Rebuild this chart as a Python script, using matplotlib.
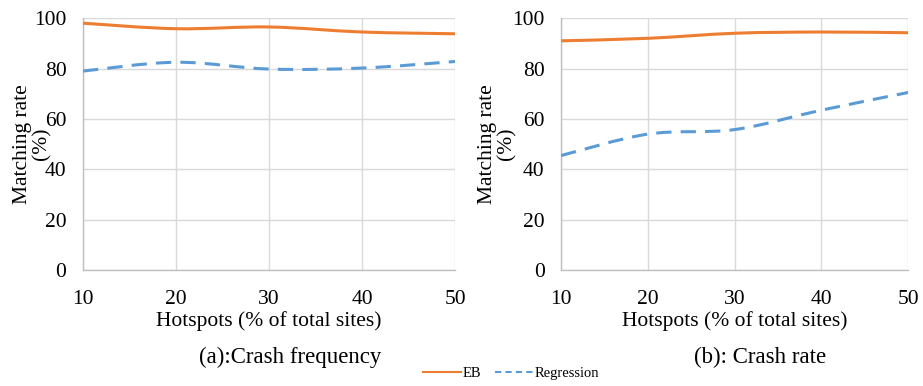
import numpy as np
import matplotlib
matplotlib.use("Agg")
import matplotlib.pyplot as plt
from matplotlib.path import Path
from matplotlib.patches import PathPatch
from matplotlib.lines import Line2D

plt.rcParams['font.family'] = ['Liberation Serif', 'DejaVu Serif']

hotspots = [10, 20, 30, 40, 50]
freq_eb = [98.0, 95.8, 96.5, 94.5, 93.8]
freq_reg = [79.0, 82.5, 79.8, 80.2, 82.8]
rate_eb = [91.0, 92.0, 94.0, 94.5, 94.2]
rate_reg = [45.5, 54.0, 55.8, 63.5, 70.5]

ORANGE = '#ED7D31'
BLUE = '#5B9BD5'


def smooth_path(x, y):
    # Excel-style smoothed line: Catmull-Rom segments as cubic Bezier
    x = np.asarray(x, float)
    y = np.asarray(y, float)
    pts = np.column_stack([x, y])
    verts = [pts[0]]
    codes = [Path.MOVETO]
    n = len(pts)
    for i in range(n - 1):
        p0 = pts[max(i - 1, 0)]
        p1 = pts[i]
        p2 = pts[i + 1]
        p3 = pts[min(i + 2, n - 1)]
        c1 = p1 + (p2 - p0) / 6.0
        c2 = p2 - (p3 - p1) / 6.0
        verts += [c1, c2, p2]
        codes += [Path.CURVE4] * 3
    return Path(verts, codes)


def draw_panel(ax, eb, reg, ylabel_x):
    ax.add_patch(PathPatch(smooth_path(hotspots, eb), fill=False,
                           edgecolor=ORANGE, lw=2.2, zorder=3))
    ax.add_patch(PathPatch(smooth_path(hotspots, reg), fill=False,
                           edgecolor=BLUE, lw=2.2, ls=(0, (5, 3)), zorder=3))
    ax.set_xlim(10, 50)
    ax.set_ylim(0, 100)
    ax.set_xticks(hotspots)
    ax.set_yticks(range(0, 101, 20))
    ax.grid(True, color='#d9d9d9', lw=1.0)
    ax.set_axisbelow(True)
    for s in ['top', 'right']:
        ax.spines[s].set_visible(False)
    for s in ['left', 'bottom']:
        ax.spines[s].set_color('#bfbfbf')
        ax.spines[s].set_linewidth(1.0)
    ax.tick_params(length=0, labelsize=15.5)
    ax.tick_params(axis='x', pad=14)
    ax.tick_params(axis='y', pad=12)
    ax.set_xlabel('Hotspots (% of total sites)', fontsize=15.5, labelpad=2)
    ax.set_ylabel('Matching rate\n(%)', fontsize=15.5, linespacing=1.0,
                  va='center', ha='center')
    ax.yaxis.set_label_coords(ylabel_x, 0.5)


fig = plt.figure(figsize=(9.23, 3.86), dpi=100)
ax1 = fig.add_axes([0.090, 0.300, 0.403, 0.653])
ax2 = fig.add_axes([0.608, 0.300, 0.376, 0.653])
draw_panel(ax1, freq_eb, freq_reg, -0.137)
draw_panel(ax2, rate_eb, rate_reg, -0.184)

fig.text(290 / 923, 1 - 357 / 386, '(a):Crash frequency', ha='center', va='center', fontsize=16.5)
fig.text(760 / 923, 1 - 357 / 386, '(b): Crash rate', ha='center', va='center', fontsize=16.5)

handles = [Line2D([], [], color=ORANGE, lw=1.5),
           Line2D([], [], color=BLUE, lw=1.5, ls=(0, (3, 2)))]
fig.legend(handles, ['EB', 'Regression'], loc='center', bbox_to_anchor=(511 / 923, 1 - 373 / 386),
           ncol=2, frameon=False, fontsize=10.5, handlelength=2.6, handletextpad=0.1,
           columnspacing=1.0)

fig.savefig('out.png', dpi=100)
